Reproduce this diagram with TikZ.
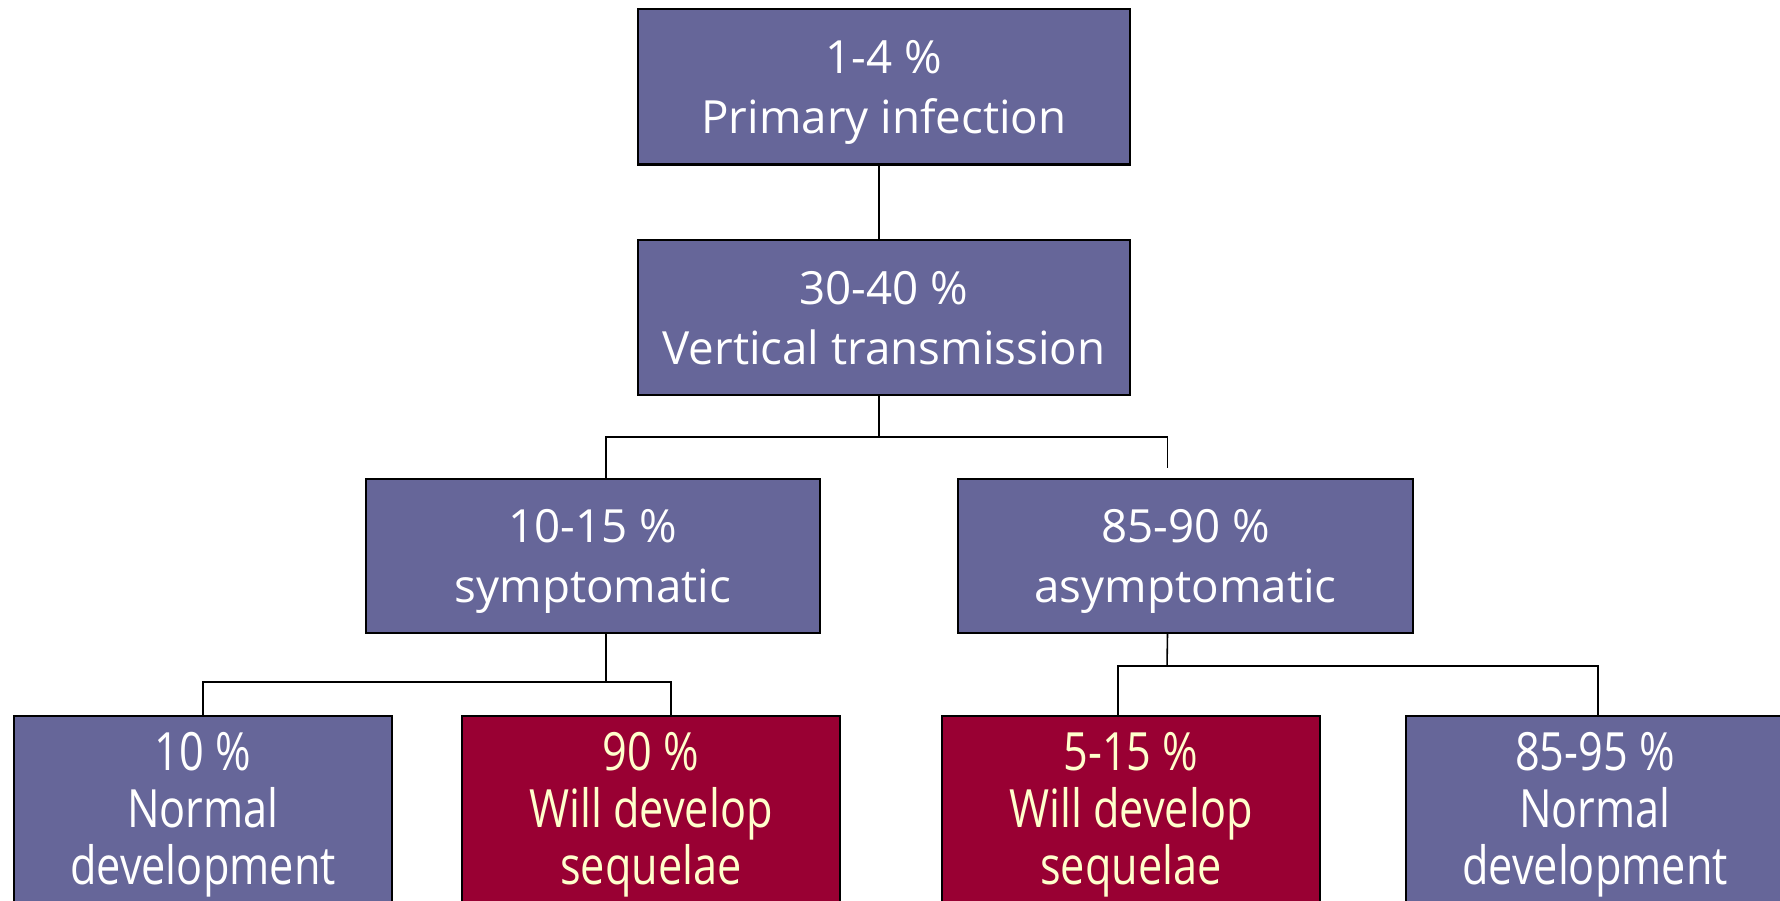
\documentclass[tikz,border=0pt]{standalone}
\usepackage{fontspec}
\setmainfont{Open Sans}
\newfontfamily\narrowfont[FakeStretch=0.82]{Open Sans}
\usepackage{xcolor}
\usetikzlibrary{positioning}
\definecolor{slateblue}{RGB}{102,102,153}
\definecolor{winered}{RGB}{153,0,51}
\definecolor{paleyellow}{RGB}{255,255,204}
\tikzset{
  ratebox/.style={
    draw=black, line width=0.6pt, fill=slateblue, text=white,
    align=center, inner sep=0pt,
    font=\fontsize{13}{17}\selectfont,
    text height=30.6pt, text depth=4pt
  },
  upperbox/.style={
    ratebox, minimum width=4.92cm, minimum height=1.55cm
  },
  middlebox/.style={
    ratebox, minimum width=4.54cm, minimum height=1.54cm
  },
  leafbox/.style={
    ratebox, minimum width=3.78cm, minimum height=1.9cm,
    font=\narrowfont\fontsize{15}{16.2}\selectfont,
    text height=46pt, text depth=4pt
  },
  sequelbox/.style={
    leafbox, fill=winered, text=paleyellow
  },
  treeline/.style={draw=black, line width=0.45pt},
}
\begin{document}
\begin{tikzpicture}[x=0.01cm, y=-0.01cm]
  \useasboundingbox (0,0) rectangle (1780,901);
  \clip (0,0) rectangle (1780,901);

  % top of the tree
  \node[upperbox] (primary)  at (884,87)    {1-4 \%\\Primary infection};
  \node[upperbox] (vertical) at (884,317.5) {30-40 \%\\Vertical transmission};

  % second level
  \node[middlebox] (sympt)  at (593,556)    {10-15 \%\\symptomatic};
  \node[middlebox] (asympt) at (1185.5,556) {85-90 \%\\asymptomatic};

  % leaves, cut by the lower edge
  \node[leafbox]   (normA) at (203,811)  {10 \%\\Normal\\development};
  \node[sequelbox] (seqA)  at (651,811)  {90 \%\\Will develop\\sequelae};
  \node[sequelbox] (seqB)  at (1131,811) {5-15 \%\\Will develop\\sequelae};
  \node[leafbox]   (normB) at (1595,811) {85-95 \%\\Normal\\development};

  % connectors
  \coordinate (splitA) at (879,437);
  \coordinate (splitB) at (606,682);
  \coordinate (splitC) at (1167,666);

  \draw[treeline] ([xshift=-0.05cm]primary.south) -- ([xshift=-0.05cm]vertical.north);
  \draw[treeline] ([xshift=-0.05cm]vertical.south) -- (splitA);
  \draw[treeline] ([xshift=0.13cm]sympt.north) |- (splitA)
    -| ([xshift=-0.18cm,yshift=0.1cm]asympt.north);

  \draw[treeline] ([xshift=0.13cm]sympt.south) -- (splitB);
  \draw[treeline] (normA.north) |- (splitB) -| ([xshift=0.2cm]seqA.north);

  \draw[treeline] ([xshift=-0.18cm]asympt.south) -- (splitC);
  \draw[treeline] ([xshift=-0.13cm]seqB.north) |- (splitC)
    -| ([xshift=0.03cm]normB.north);
\end{tikzpicture}
\end{document}
